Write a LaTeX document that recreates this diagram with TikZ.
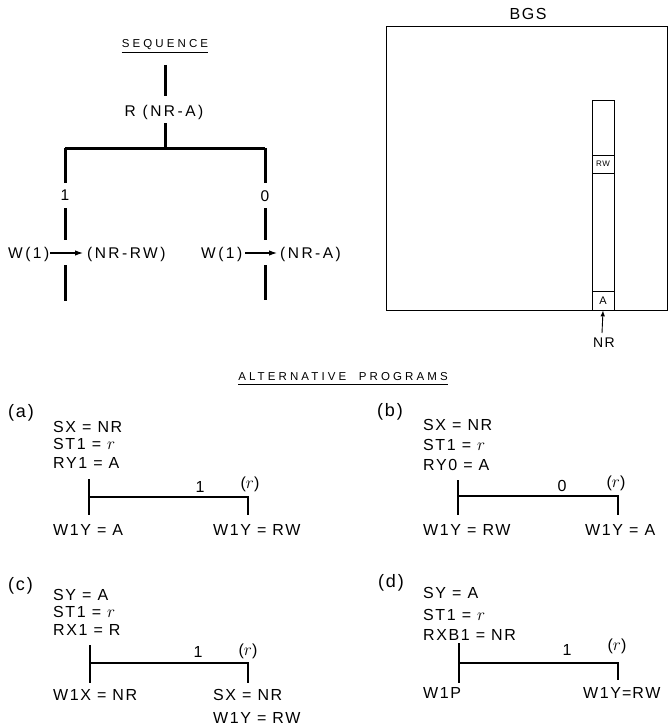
\documentclass[tikz,border=0pt]{standalone}
\usepackage{fontspec}
\usetikzlibrary{arrows.meta}
\newfontfamily\pf{Liberation Sans}[LetterSpace=10]
\newfontfamily\sqf{Liberation Sans}[LetterSpace=16]
\newfontfamily\tf{Liberation Sans}[LetterSpace=27]
\tikzset{
  seq/.style={line width=3pt},
  pl/.style={line width=2.2pt},
  thinbox/.style={line width=0.9pt},
  ptxt/.style={font=\pf\fontsize{16}{18}\selectfont, anchor=base west, inner sep=0pt},
  stxt/.style={font=\sqf\fontsize{15.5}{17}\selectfont, anchor=base, inner sep=0pt},
  ttl/.style={font=\tf\fontsize{11.5}{13}\selectfont, anchor=base, inner sep=0pt},
  lbl/.style={font=\pf\fontsize{18}{20}\selectfont, anchor=base west, inner sep=0pt},
}
\begin{document}
\begin{tikzpicture}[x=1pt,y=-1pt]
\useasboundingbox (0,0) rectangle (668,725);
% ---------- SEQUENCE ----------
\node[ttl] (seqt) at (165,48) {SEQUENCE};
\draw[line width=0.8pt] ([yshift=-4pt]seqt.base west) -- ([yshift=-4pt]seqt.base east);
\coordinate (s0) at (165,65); \coordinate (s1) at (165,96);
\draw[seq] (s0) -- (s1);
\node[stxt] (rnra) at (164,116) {R (NR-A)};
\coordinate (s2) at (165,123); \coordinate (j) at (165,148);
\draw[seq] (s2) -- (j);
\coordinate (jl) at (65,148); \coordinate (jr) at (265,148);
\draw[seq] (jl) -- (jr);
% left branch
\coordinate (l1) at (65,183);
\draw[seq] (jl) -- (l1);
\node[stxt] (one) at (65,200) {1};
\coordinate (l2) at (65,208); \coordinate (l3) at (65,240);
\draw[seq] (l2) -- (l3);
\node[stxt, anchor=base west] (wl) at (8,258) {W(1)};
\node[stxt, anchor=base west] (nrrw) at (87,258) {(NR-RW)};
\coordinate (al0) at (50,253); \coordinate (al1) at (83,253);
\draw[line width=1.1pt, -{Latex[length=8pt,width=5.5pt]}] (al0) -- (al1);
\coordinate (l4) at (65,265); \coordinate (l5) at (65,301);
\draw[seq] (l4) -- (l5);
% right branch
\coordinate (r1) at (265,183);
\draw[seq] (jr) -- (r1);
\node[stxt] (zero) at (265,201) {0};
\coordinate (r2) at (265,208); \coordinate (r3) at (265,240);
\draw[seq] (r2) -- (r3);
\node[stxt, anchor=base west] (wr) at (201,258) {W(1)};
\node[stxt, anchor=base west] (nra) at (280,258) {(NR-A)};
\coordinate (ar0) at (245,253); \coordinate (ar1) at (277,253);
\draw[line width=1.1pt, -{Latex[length=8pt,width=5.5pt]}] (ar0) -- (ar1);
\coordinate (r4) at (265,265); \coordinate (r5) at (265,300);
\draw[seq] (r4) -- (r5);
% ---------- BGS ----------
\node[font=\pf\fontsize{16}{18}\selectfont, anchor=base, inner sep=0pt] (bgs) at (528,20) {BGS};
\draw[thinbox] (386,26) rectangle (667,310);
\draw[line width=0.8pt] (592,100) rectangle (614,310);
\node[draw, line width=0.8pt, minimum width=22pt, minimum height=18pt, inner sep=0pt, font=\pf\fontsize{8}{9}\selectfont] (rw) at (603,164) {RW};
\node[draw, line width=0.8pt, minimum width=22pt, minimum height=19pt, inner sep=0pt, font=\pf\fontsize{11}{12}\selectfont] (acell) at (603,300.5) {A};
\node[font=\pf\fontsize{14}{16}\selectfont, anchor=base, inner sep=0pt] (nr) at (604,347) {NR};
\coordinate (nrt) at (602,333);
\draw[line width=0.9pt, -{Latex[length=6pt,width=4.5pt]}] (nrt) -- (acell.south);
% ---------- ALTERNATIVE PROGRAMS ----------
\node[ttl] (alt) at (343,380) {ALTERNATIVE\ \ PROGRAMS};
\draw[line width=0.8pt] ([yshift=-4pt]alt.base west) -- ([yshift=-4pt]alt.base east);
% (a)
\node[lbl] (la) at (8,417) {(a)};
\node[ptxt] (a1t) at (53,432) {SX = NR};
\node[ptxt] (a2t) at (53,449) {ST1 = $r$};
\node[ptxt] (a3t) at (53,468) {RY1 = A};
\coordinate (a1) at (89,479); \coordinate (a2) at (89,515);
\coordinate (a3) at (89,497); \coordinate (a4) at (248,497); \coordinate (a5) at (248,515);
\draw[pl] (a1) -- (a2);
\draw[pl] (a3) -- (a4) -- (a5);
\node[ptxt, anchor=base] (a1l) at (200,492) {1};
\node[ptxt, anchor=base] (ar) at (250,488) {($r$)};
\node[ptxt] (a4t) at (53,535) {W1Y = A};
\node[ptxt] (a5t) at (213,535) {W1Y = RW};
% (b)
\node[lbl] (lb) at (377,416) {(b)};
\node[ptxt] (b1t) at (423,430) {SX = NR};
\node[ptxt] (b2t) at (423,450) {ST1 = $r$};
\node[ptxt] (b3t) at (423,470) {RY0 = A};
\coordinate (b1) at (458,480); \coordinate (b2) at (458,515);
\coordinate (b3) at (458,496); \coordinate (b4) at (618,496); \coordinate (b5) at (618,515);
\draw[pl] (b1) -- (b2);
\draw[pl] (b3) -- (b4) -- (b5);
\node[ptxt, anchor=base] (b0l) at (562,491) {0};
\node[ptxt, anchor=base] (br) at (616,487) {($r$)};
\node[ptxt] (b4t) at (423,535) {W1Y = RW};
\node[ptxt] (b5t) at (585,535) {W1Y = A};
% (c)
\node[lbl] (lc) at (8,590) {(c)};
\node[ptxt] (c1t) at (53,600) {SY = A};
\node[ptxt] (c2t) at (53,617) {ST1 = $r$};
\node[ptxt] (c3t) at (53,635) {RX1 = R};
\coordinate (c1) at (90,645); \coordinate (c2) at (90,683);
\coordinate (c3) at (90,663); \coordinate (c4) at (248,663); \coordinate (c5) at (248,683);
\draw[pl] (c1) -- (c2);
\draw[pl] (c3) -- (c4) -- (c5);
\node[ptxt, anchor=base] (c1l) at (198,657) {1};
\node[ptxt, anchor=base] (cr) at (248,655) {($r$)};
\node[ptxt] (c4t) at (53,700) {W1X = NR};
\node[ptxt] (c5t) at (213,700) {SX = NR};
\node[ptxt] (c6t) at (213,723) {W1Y = RW};
% (d)
\node[lbl] (ld) at (378,587) {(d)};
\node[ptxt] (d1t) at (423,598) {SY = A};
\node[ptxt] (d2t) at (423,620) {ST1 = $r$};
\node[ptxt] (d3t) at (423,640) {RXB1 = NR};
\coordinate (d1) at (459,643); \coordinate (d2) at (459,683);
\coordinate (d3) at (459,663); \coordinate (d4) at (618,663); \coordinate (d5) at (618,680);
\draw[pl] (d1) -- (d2);
\draw[pl] (d3) -- (d4) -- (d5);
\node[ptxt, anchor=base] (d1l) at (567,655) {1};
\node[ptxt, anchor=base] (dr) at (617,650) {($r$)};
\node[ptxt] (d4t) at (423,698) {W1P};
\node[ptxt] (d5t) at (583,698) {W1Y\hspace{1pt}=\hspace{1pt}RW};
\end{tikzpicture}
\end{document}
